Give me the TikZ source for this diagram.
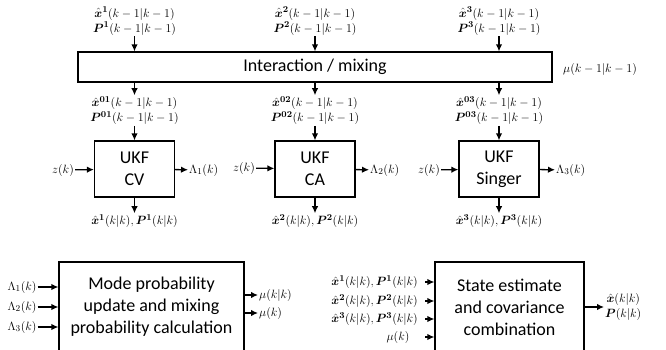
\documentclass[tikz,border=0pt]{standalone}
\usetikzlibrary{arrows.meta,positioning}
\usepackage{amsmath,bm}
\usepackage{fontspec}
\newfontfamily\boxfont{Carlito}

\begin{document}
\begin{tikzpicture}[
		x=1pt,y=-1pt,
		box/.style={draw,line width=1.3pt,align=center,inner sep=0pt,
			font=\boxfont\fontsize{18}{22}\selectfont},
		arr/.style={-{Latex[length=7pt,width=6.5pt]},line width=1.3pt},
		lab/.style={font=\fontsize{12.5}{15}\selectfont,inner sep=1pt,align=center}
		]
		% ===== Canvas =====
		\useasboundingbox (0,0) rectangle (666,349);
		\clip (0,0) rectangle (666,349);
		% ===== Column positions =====
		\def\ca{134.5}
		\def\cb{315}
		\def\cc{499}
		% ===== Interaction / mixing =====
		\node[box,minimum width=474pt,minimum height=30pt] (mix) at (315,67) {Interaction / mixing};
		\node[lab] (mu0) at (600,69) {$\mu(k-1|k-1)$};
		\node[lab] (in1) at (\ca,21) {$\bm{\hat{x}}^{\bm{1}}(k-1|k-1)$\\$\bm{P}^{\bm{1}}(k-1|k-1)$};
		\node[lab] (in2) at (\cb,21) {$\bm{\hat{x}}^{\bm{2}}(k-1|k-1)$\\$\bm{P}^{\bm{2}}(k-1|k-1)$};
		\node[lab] (in3) at (\cc,21) {$\bm{\hat{x}}^{\bm{3}}(k-1|k-1)$\\$\bm{P}^{\bm{3}}(k-1|k-1)$};
		\foreach \i in {1,2,3}
		\draw[arr] (in\i) -- (in\i |- mix.north);
		% ===== Mixed initial conditions =====
		\node[lab] (mo1) at (\ca,110.5) {$\bm{\hat{x}}^{\bm{01}}(k-1|k-1)$\\$\bm{P}^{\bm{01}}(k-1|k-1)$};
		\node[lab] (mo2) at (\cb,110.5) {$\bm{\hat{x}}^{\bm{02}}(k-1|k-1)$\\$\bm{P}^{\bm{02}}(k-1|k-1)$};
		\node[lab] (mo3) at (\cc,110.5) {$\bm{\hat{x}}^{\bm{03}}(k-1|k-1)$\\$\bm{P}^{\bm{03}}(k-1|k-1)$};
		\foreach \i in {1,2,3}
		\draw[arr] (mix.south -| mo\i) -- (mo\i);
		% ===== Filters =====
		\node[box,minimum width=80pt,minimum height=56pt] (ukf1) at (\ca,169) {UKF\\CV};
		\node[box,minimum width=80pt,minimum height=56pt] (ukf2) at (\cb,169) {UKF\\CA};
		\node[box,minimum width=80pt,minimum height=56pt] (ukf3) at (\cc,169) {UKF\\Singer};
		\node[lab] (z1) at (63,170) {$z(k)$};
		\node[lab] (z2) at (244,168) {$z(k)$};
		\node[lab] (z3) at (429,170) {$z(k)$};
		\node[lab,anchor=west] (lam1) at (188,170) {$\Lambda_1(k)$};
		\node[lab,anchor=west] (lam2) at (369,170) {$\Lambda_2(k)$};
		\node[lab,anchor=west] (lam3) at (555,170) {$\Lambda_3(k)$};
		\node[lab] (est1) at (\ca,221) {$\bm{\hat{x}}^{\bm{1}}(k|k),\bm{P}^{\bm{1}}(k|k)$};
		\node[lab] (est2) at (\cb,221) {$\bm{\hat{x}}^{\bm{2}}(k|k),\bm{P}^{\bm{2}}(k|k)$};
		\node[lab] (est3) at (\cc,221) {$\bm{\hat{x}}^{\bm{3}}(k|k),\bm{P}^{\bm{3}}(k|k)$};
		\foreach \i in {1,2,3}{
			\draw[arr] (mo\i) -- (ukf\i);
			\draw[arr] (z\i) -- (ukf\i);
			\draw[arr] (ukf\i) -- (lam\i);
			\draw[arr] (ukf\i) -- (est\i);
		}
		% ===== Mode probability update =====
		\node[box,minimum width=185pt,minimum height=90pt] (mode) at (151.5,307)
		{Mode probability\\update and mixing\\probability calculation};
		\node[lab] (l1) at (22,287) {$\Lambda_1(k)$};
		\node[lab] (l2) at (22,307) {$\Lambda_2(k)$};
		\node[lab] (l3) at (22,327) {$\Lambda_3(k)$};
		\foreach \i in {1,2,3}
		\draw[arr] (l\i) -- (l\i -| mode.west);
		\node[lab,anchor=west] (mu1) at (258,295) {$\mu(k|k)$};
		\node[lab,anchor=west] (mu2) at (258,313) {$\mu(k)$};
		\draw[arr] (mode.east |- mu1) -- (mu1);
		\draw[arr] (mode.east |- mu2) -- (mu2);
		% ===== State estimate and covariance combination =====
		\node[box,minimum width=149pt,minimum height=90pt] (state) at (509.5,307)
		{State estimate\\and covariance\\combination};
		\coordinate (sin) at (425,0);
		\node[lab,anchor=east] (s1) at (419,282) {$\bm{\hat{x}}^{\bm{1}}(k|k),\bm{P}^{\bm{1}}(k|k)$};
		\node[lab,anchor=east] (s2) at (419,301) {$\bm{\hat{x}}^{\bm{2}}(k|k),\bm{P}^{\bm{2}}(k|k)$};
		\node[lab,anchor=east] (s3) at (419,319) {$\bm{\hat{x}}^{\bm{3}}(k|k),\bm{P}^{\bm{3}}(k|k)$};
		\node[lab] (s4) at (398,337) {$\mu(k)$};
		\foreach \i in {1,...,4}
		\draw[arr] (s\i -| sin) -- (s\i -| state.west);
		\node[lab,anchor=west] (out) at (604,307) {$\bm{\hat{x}}(k|k)$\\$\bm{P}(k|k)$};
		\draw[arr] (state.east |- out) -- (out);
\end{tikzpicture}
\end{document}
